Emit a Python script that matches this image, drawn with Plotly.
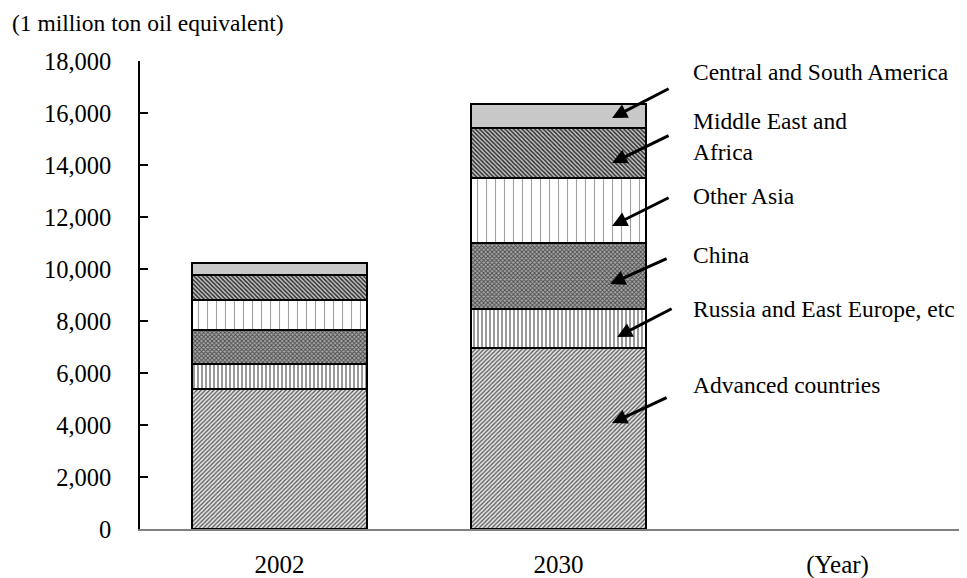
import plotly.graph_objects as go

years = ["2002", "2030"]
regions = ["Advanced countries", "Russia and East Europe, etc", "China",
           "Other Asia", "Middle East and<br>Africa", "Central and South America"]
advanced = [5380, 6950]
russia = [966, 1510]
china = [1300, 2550]
other_asia = [1160, 2480]
mideast_africa = [960, 1920]
central_south_america = [450, 930]
series = [advanced, russia, china, other_asia, mideast_africa, central_south_america]
tick_labels = ["2002", "2030", "(Year)"]
y_ticks = [0, 2000, 4000, 6000, 8000, 10000, 12000, 14000, 16000, 18000]

patterns = [
    dict(shape="/", size=3, solidity=0.4, fgcolor="#555555", bgcolor="#e4e4e4", fillmode="replace"),
    dict(shape="|", size=4, solidity=0.35, fgcolor="#6e6e6e", bgcolor="#ffffff", fillmode="replace"),
    dict(shape="x", size=3, solidity=0.5, fgcolor="#4a4a4a", bgcolor="#a8a8a8", fillmode="replace"),
    dict(shape="|", size=9, solidity=0.12, fgcolor="#a0a0a0", bgcolor="#ffffff", fillmode="replace"),
    dict(shape="\\", size=3, solidity=0.5, fgcolor="#2e2e2e", bgcolor="#c8c8c8", fillmode="replace"),
    None,
]

fig = go.Figure()
xpos = list(range(len(years)))
for name, vals, pat in zip(regions, series, patterns):
    marker = dict(color="#c8c8c8" if pat is None else "#ffffff",
                  line=dict(color="black", width=2.5))
    if pat is not None:
        marker["pattern"] = pat
    fig.add_trace(go.Bar(x=xpos, y=vals, name=name, width=0.625, marker=marker,
                         showlegend=False, hoverinfo="skip"))

serif = "Liberation Serif"

# label text positions (data coords) and arrow head positions
label_pos = [(1.475, 5540), (1.475, 8460), (1.475, 10540),
             (1.475, 12810), (1.475, 15080), (1.475, 17580)]
arrow_heads = [(1.192, 4077), (1.21, 7385), (1.185, 9423),
               (1.192, 11654), (1.192, 14077), (1.192, 15808)]
arrow_offsets = [(56, -26), (56, -29), (58, -26), (58, -29), (58, -28), (58, -30)]

annotations = []
for name, (lx, ly) in zip(regions, label_pos):
    annotations.append(dict(x=lx, y=ly, xref="x", yref="y", text=name, showarrow=False,
                            xanchor="left", yanchor="middle", align="left",
                            font=dict(family=serif, size=23.5, color="black")))
for (hx, hy), (ax, ay) in zip(arrow_heads, arrow_offsets):
    annotations.append(dict(x=hx, y=hy, xref="x", yref="y", text="", showarrow=True,
                            ax=ax, ay=ay, arrowhead=2, arrowsize=1.0, arrowwidth=3,
                            arrowcolor="black", standoff=0))
annotations.append(dict(x=-130 / 827, y=521 / 468, xref="paper", yref="paper",
                        text="(1 million ton oil equivalent)", showarrow=False,
                        xanchor="left", yanchor="top",
                        font=dict(family=serif, size=23.5, color="black")))

fig.update_layout(
    barmode="stack",
    width=959, height=570,
    margin=dict(l=132, r=0, t=53, b=49, autoexpand=False),
    plot_bgcolor="white", paper_bgcolor="white",
    font=dict(family=serif, size=24, color="black"),
    annotations=annotations,
    bargap=0,
)
fig.update_xaxes(range=[-0.5, 2.464], tickvals=[0, 1, 2], ticktext=tick_labels,
                 showline=True, linecolor="#808080", linewidth=2, ticks="",
                 showgrid=False, zeroline=False, ticklabelstandoff=12, automargin=False,
                 tickfont=dict(family=serif, size=25))
fig.update_yaxes(range=[0, 18000], tickvals=y_ticks, tickformat=",",
                 showline=True, linecolor="black", linewidth=1.5,
                 ticks="inside", ticklen=8, tickcolor="black", tickwidth=1.5,
                 showgrid=False, zeroline=False, ticklabelstandoff=22, automargin=False,
                 tickfont=dict(family=serif, size=24.5))

fig.write_html("out.html")
